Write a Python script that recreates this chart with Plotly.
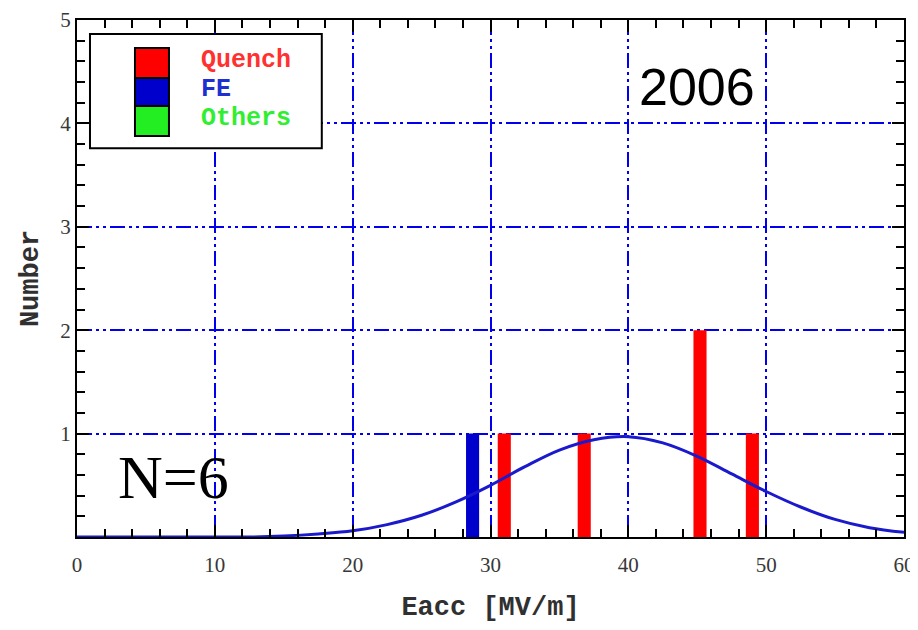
import plotly.graph_objects as go

# ---- data ----
quench_x = [31.0, 36.8, 45.2, 49.0]
quench_n = [1, 1, 2, 1]
fe_x = [28.7]
fe_n = [1]
bar_width = 0.95

fit_x = [0, 2.5, 5, 7.5, 10, 12.5, 15, 17.5, 20, 22.5, 25, 27.5, 30, 32.5,
         35, 37.5, 40, 42.5, 45, 47.5, 50, 52.5, 55, 57.5, 60]
fit_y = [0, 0, 0, 0, 0, 0, 0.01, 0.03, 0.06, 0.12, 0.21, 0.34, 0.50, 0.68,
         0.84, 0.94, 0.97, 0.91, 0.78, 0.61, 0.44, 0.29, 0.17, 0.09, 0.045]

x_ticks = [0, 10, 20, 30, 40, 50, 60]
y_ticks = [1, 2, 3, 4, 5]

legend_labels = ["Quench", "FE", "Others"]
legend_colors = ["#ff0000", "#0000cc", "#22ee22"]
legend_text_colors = ["#ff3030", "#2030d0", "#30ee30"]

GRID_DASH = "15px,4px,3px,4px,3px,4px"

fig = go.Figure()
fig.add_trace(go.Scatter(x=fit_x, y=fit_y, mode="lines", line_shape="spline",
                         line=dict(color="#1a1acc", width=3), showlegend=False))
fig.add_trace(go.Bar(x=fe_x, y=fe_n, width=bar_width, marker_color="#0000cc",
                     marker_line_width=0, showlegend=False))
fig.add_trace(go.Bar(x=quench_x, y=quench_n, width=bar_width, marker_color="#ff0000",
                     marker_line_width=0, showlegend=False))

axis_common = dict(
    automargin=False,
    showline=True, linewidth=2, linecolor="black", mirror="allticks",
    ticks="inside", ticklen=12, tickwidth=2, tickcolor="black",
    showgrid=True, gridcolor="#0000ee", gridwidth=2, griddash=GRID_DASH,
    zeroline=False,
    tickfont=dict(family="Liberation Serif", size=21, color="#383838"),
)

# the page body adds an 8px offset, so the figure is sized to fit the window
fig.update_layout(
    width=910, height=622,
    margin=dict(l=69, r=14, t=12, b=93, autoexpand=False),
    paper_bgcolor="white", plot_bgcolor="white",
    barmode="overlay",
    xaxis=dict(range=[0, 60], tickmode="array", tickvals=x_ticks,
               ticklabelstandoff=8,
               minor=dict(ticks="inside", ticklen=8, tickwidth=2, tickcolor="black",
                          tickmode="linear", tick0=0, dtick=2, showgrid=False),
               title=dict(text="Eacc [MV/m]", standoff=20,
                          font=dict(family="Liberation Mono", size=27, color="#303030",
                                    weight="bold")),
               **axis_common),
    yaxis=dict(range=[0, 5], tickmode="array", tickvals=y_ticks,
               minor=dict(ticks="inside", ticklen=8, tickwidth=2, tickcolor="black",
                          tickmode="linear", tick0=0, dtick=0.2, showgrid=False),
               title=dict(text="Number", standoff=14,
                          font=dict(family="Liberation Mono", size=27, color="#303030",
                                    weight="bold")),
               **axis_common),
)

# annotations inside the plot
fig.add_annotation(x=45, y=4.35, xref="x", yref="y", text="2006", showarrow=False,
                   font=dict(family="Liberation Sans", size=52, color="black"))
fig.add_annotation(x=7, y=0.58, xref="x", yref="y", text="N=6", showarrow=False,
                   font=dict(family="Liberation Serif", size=62, color="black"))

# hand-drawn style legend box
fig.add_shape(type="rect", xref="paper", yref="paper", x0=0.0157, x1=0.296,
              y0=0.752, y1=0.973, line=dict(color="black", width=2),
              fillcolor="white", layer="above")
sw_top = 0.9458
sw_h = [0.058, 0.054, 0.058]
y_cur = sw_top
for lbl, c, tc, h in zip(legend_labels, legend_colors, legend_text_colors, sw_h):
    fig.add_shape(type="rect", xref="paper", yref="paper", x0=0.0701, x1=0.1112,
                  y0=y_cur - h, y1=y_cur, line=dict(color="black", width=2),
                  fillcolor=c, layer="above")
    fig.add_annotation(x=0.1475, y=y_cur - h / 2 + 0.004, xref="paper", yref="paper",
                       text=lbl, showarrow=False, xanchor="left", yanchor="middle",
                       font=dict(family="Liberation Mono", size=25, color=tc,
                                 weight="bold"))
    y_cur -= h

fig.write_html("out.html")
